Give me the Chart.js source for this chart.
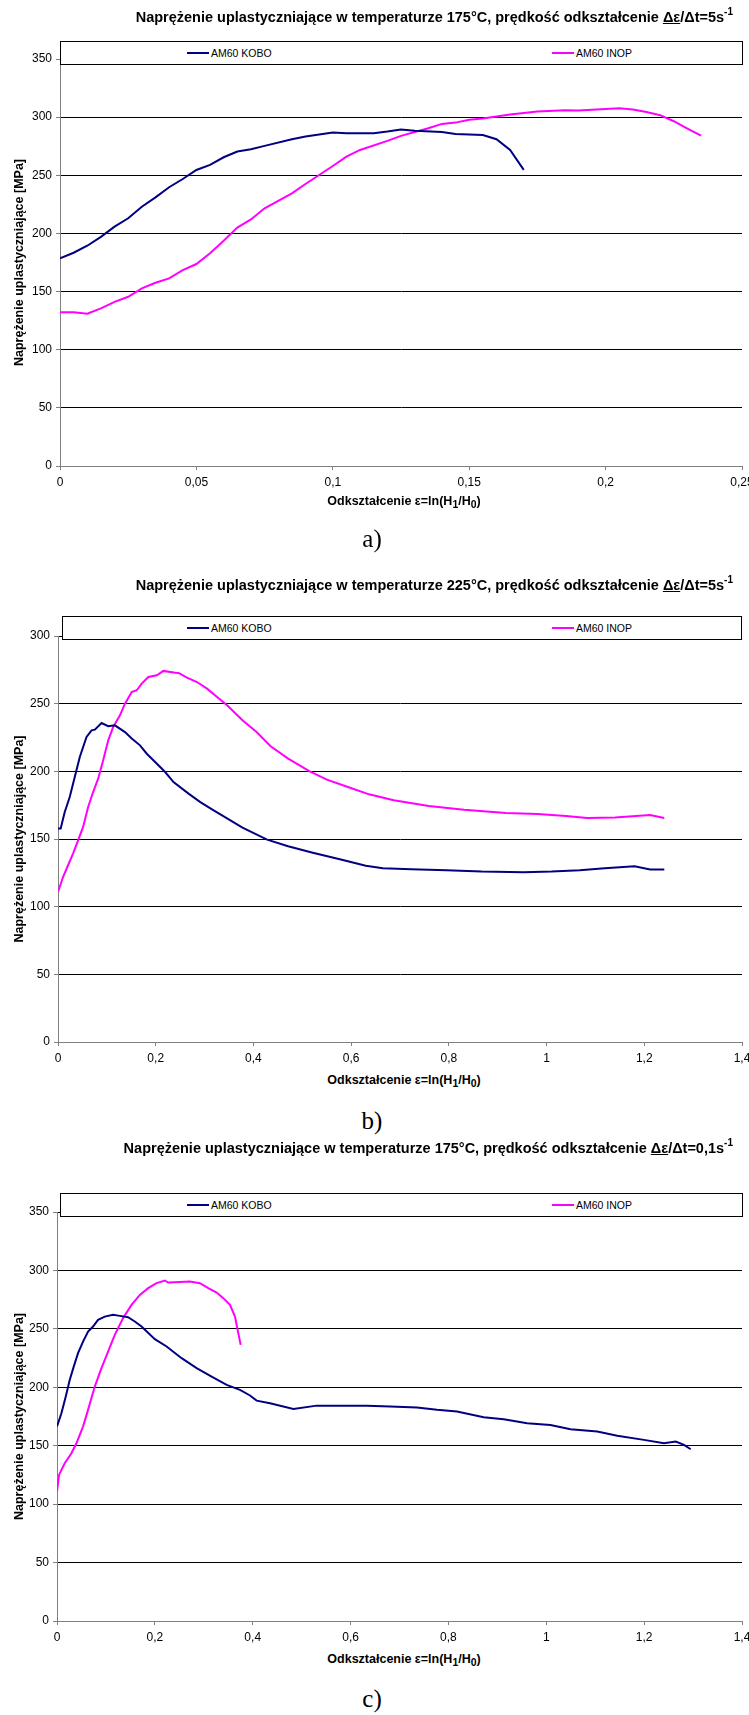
<!DOCTYPE html>
<html><head><meta charset="utf-8">
<script src="https://cdn.jsdelivr.net/npm/chart.js@4.4.1/dist/chart.umd.min.js"></script>
<style>
body{margin:0;width:749px;height:1715px;overflow:hidden;background:#fff;position:relative;font-family:"Liberation Sans",Arial,sans-serif;color:#000;}
canvas{position:absolute;left:0;}
.title{position:absolute;right:16px;font-weight:bold;font-size:14.5px;white-space:nowrap;line-height:16px;}
.title sup{font-size:10px;position:relative;top:-1px;}
.legend{position:absolute;border:1px solid #000;background:#fff;box-sizing:border-box;font-size:10.5px;height:24px;}
.item{position:absolute;top:5px;white-space:nowrap;line-height:13px;}
.item i{display:inline-block;width:22px;height:2px;vertical-align:middle;margin-right:2px;position:relative;top:-1px;}
.xt{position:absolute;left:404px;transform:translate(-50%,-50%);font-weight:bold;font-size:12.5px;white-space:nowrap;}
.cap{position:absolute;left:372px;transform:translate(-50%,-50%);font-family:"Liberation Serif","Times New Roman",serif;font-size:25px;}
</style>
</head><body>
<canvas id="ca" width="749" height="494" style="top:0px"></canvas>
<canvas id="cb" width="749" height="510" style="top:560px"></canvas>
<canvas id="cc" width="749" height="499" style="top:1150px"></canvas>

<div class="title" style="top:5px">Naprężenie uplastyczniające w temperaturze 175°C, prędkość odkształcenie <u>Δε</u>/Δt=5s<sup>-1</sup></div>
<div class="legend" style="left:60px;top:41px;width:683px"><span class="item" style="left:126px"><i style="background:#000080"></i>AM60 KOBO</span><span class="item" style="left:491px"><i style="background:#ff00ff"></i>AM60 INOP</span></div>
<div class="xt" style="top:502px">Odkształcenie ε=ln(H<sub>1</sub>/H<sub>0</sub>)</div>
<div class="cap" style="top:539px">a)</div>

<div class="title" style="top:573px">Naprężenie uplastyczniające w temperaturze 225°C, prędkość odkształcenie <u>Δε</u>/Δt=5s<sup>-1</sup></div>
<div class="legend" style="left:62px;top:616px;width:680px"><span class="item" style="left:124px"><i style="background:#000080"></i>AM60 KOBO</span><span class="item" style="left:489px"><i style="background:#ff00ff"></i>AM60 INOP</span></div>
<div class="xt" style="top:1081px">Odkształcenie ε=ln(H<sub>1</sub>/H<sub>0</sub>)</div>
<div class="cap" style="top:1121px">b)</div>

<div class="title" style="top:1136px">Naprężenie uplastyczniające w temperaturze 175°C, prędkość odkształcenie <u>Δε</u>/Δt=0,1s<sup>-1</sup></div>
<div class="legend" style="left:60px;top:1193px;width:683px"><span class="item" style="left:126px"><i style="background:#000080"></i>AM60 KOBO</span><span class="item" style="left:491px"><i style="background:#ff00ff"></i>AM60 INOP</span></div>
<div class="xt" style="top:1660px">Odkształcenie ε=ln(H<sub>1</sub>/H<sub>0</sub>)</div>
<div class="cap" style="top:1699px">c)</div>

<script>
// ---- Chart a) 175°C, 5 s^-1 ----
const aKoboX = [0,0.005,0.01,0.015,0.02,0.025,0.03,0.035,0.04,0.045,0.05,0.055,0.06,0.065,0.07,0.075,0.085,0.09,0.1,0.105,0.115,0.12,0.125,0.13,0.14,0.145,0.155,0.16,0.165,0.17];
const aKoboY = [178.6,183.4,189.4,197,205.8,213,223,231,239.7,246.8,254.6,258.9,265.5,270.4,272.4,275.3,281,283.3,286.7,286.2,286.2,287.6,289.3,288.2,287.3,285.6,284.7,281,271.8,254.6];
const aInopX = [0,0.005,0.01,0.015,0.02,0.025,0.03,0.035,0.04,0.045,0.05,0.055,0.06,0.065,0.07,0.075,0.085,0.09,0.1,0.105,0.11,0.12,0.125,0.135,0.14,0.145,0.15,0.155,0.165,0.175,0.185,0.19,0.2,0.205,0.21,0.215,0.22,0.225,0.23,0.235];
const aInopY = [132.3,132.3,130.9,135.5,141.2,145.5,152.7,157.6,161.3,168.5,173.7,182.9,193.7,205,212,221.6,234.5,242.5,258,266,271.8,279.6,283.9,290.5,294.2,295.3,297.7,298.8,302.2,304.8,306,305.7,306.9,307.7,306.5,304.5,301.7,296.5,290.2,284.1];
const aXTicks = [0,0.05,0.1,0.15,0.2,0.25];
const aYTicks = [0,50,100,150,200,250,300,350];

// ---- Chart b) 225°C, 5 s^-1 ----
const bKoboX = [0,0.0055,0.0138,0.024,0.0343,0.0446,0.0584,0.0687,0.0754,0.0892,0.1028,0.1165,0.1371,0.1509,0.1679,0.1817,0.1988,0.2193,0.2364,0.2672,0.2913,0.3186,0.3529,0.3776,0.428,0.471,0.5215,0.579,0.63,0.665,0.723,0.795,0.867,0.953,1.01,1.068,1.119,1.18,1.212,1.241];
const bKoboY = [157.7,157.7,170,181,195.8,210.6,225.4,230.3,230.8,235.7,233.3,234,229,224.2,219.2,213,206.9,199.5,192.1,183.5,177.3,171.2,163.8,158.4,149.5,144.6,139.9,134.8,130.3,128.4,127.6,126.9,125.9,125.4,125.9,126.9,128.4,129.8,127.4,127.4];
const bInopX = [0,0.0103,0.0206,0.0308,0.0411,0.0514,0.0617,0.0719,0.0822,0.0925,0.1028,0.113,0.1268,0.1371,0.1509,0.1611,0.1714,0.185,0.2023,0.2158,0.2399,0.2467,0.2639,0.2845,0.305,0.3256,0.3461,0.3776,0.4064,0.4352,0.4711,0.5143,0.5503,0.5934,0.6366,0.6872,0.759,0.831,0.917,0.982,1.04,1.083,1.14,1.183,1.212,1.241];
const bInopY = [110.8,121.9,130.6,139.2,149,158.9,173.7,184.7,194.6,208.2,222.9,232.8,241.4,250,258.6,259.9,264.8,269.7,271,274.2,272.9,272.7,269.2,266,261.1,255,248.8,237.7,229.1,218.5,209.4,200.2,193.9,188.4,183,178.6,174.4,171.7,169.2,168.5,167,165.5,165.8,167,167.7,165.5];
const bXTicks = [0,0.2,0.4,0.6,0.8,1,1.2,1.4];
const bYTicks = [0,50,100,150,200,250,300];

// ---- Chart c) 175°C, 0.1 s^-1 ----
const cKoboX = [0,0.009,0.0178,0.026,0.0342,0.043,0.0532,0.0635,0.0737,0.0839,0.0976,0.1146,0.1284,0.1453,0.159,0.1728,0.2,0.224,0.2547,0.2854,0.316,0.3468,0.374,0.3945,0.408,0.4354,0.4831,0.531,0.5924,0.6334,0.681,0.7357,0.7766,0.8176,0.872,0.913,0.961,1.0086,1.0495,1.1042,1.1451,1.1996,1.2405,1.2645,1.2815,1.2952];
const cKoboY = [166.4,177.8,192,206.3,217.7,229.2,239.1,247.7,252,257.7,260.5,262,261.1,260,256.3,252,241.2,234.9,224.9,216.4,209.2,202,197.8,193,188.6,186.4,181.5,184.3,184.3,184.3,183.5,182.6,180.7,179.2,174.4,172.7,169.3,167.8,164.1,162.1,158.6,155,152.1,153.5,150.7,147];
const cInopX = [0,0.0041,0.0158,0.0295,0.0397,0.0532,0.0635,0.0772,0.0909,0.1044,0.1181,0.1351,0.1523,0.1693,0.1863,0.2035,0.2205,0.2272,0.2512,0.2717,0.2921,0.3091,0.3263,0.3398,0.3535,0.3638,0.3705,0.3754];
const cInopY = [110.7,125,135,143.6,152.1,166.4,180.7,200.6,216.4,230.6,244.9,259.2,270.5,279.1,284.8,289.1,291.4,289.6,290.2,290.5,289.1,284.8,281.1,276.3,270.5,260.5,246.3,236.3];
const cXTicks = [0,0.2,0.4,0.6,0.8,1,1.2,1.4];
const cYTicks = [0,50,100,150,200,250,300,350];

const seriesNames = ['AM60 KOBO','AM60 INOP'];
const seriesColors = ['#000080','#ff00ff'];
const FONT = '"Liberation Sans", Arial, sans-serif';

function pts(xs, ys){ return xs.map((x,i)=>({x:x, y:ys[i]})); }
function fmt(v){ return String(Math.round(v*1000)/1000).replace('.', ','); }

function makeChart(id, kx, ky, ix, iy, xTicks, yTicks, padTop, padRight, yWidth){
  new Chart(document.getElementById(id), {
    type: 'line',
    data: { datasets: [
      {label: seriesNames[0], data: pts(kx,ky), borderColor: seriesColors[0], borderWidth: 2, pointRadius: 0, tension: 0, fill: false},
      {label: seriesNames[1], data: pts(ix,iy), borderColor: seriesColors[1], borderWidth: 2, pointRadius: 0, tension: 0, fill: false}
    ]},
    options: {
      responsive: false, animation: false, devicePixelRatio: 1,
      layout: { padding: {top: padTop, right: padRight, bottom: 0, left: 0} },
      plugins: { legend: {display: false}, tooltip: {enabled: false} },
      scales: {
        x: {
          type: 'linear', min: xTicks[0], max: xTicks[xTicks.length-1],
          afterBuildTicks: s => { s.ticks = xTicks.map(v => ({value: v})); },
          ticks: { callback: v => fmt(v), font: {size: 12, family: FONT}, color: '#000', padding: 5, maxRotation: 0, autoSkip: false },
          grid: { drawOnChartArea: false, drawTicks: true, tickLength: 4, color: '#808080' },
          border: { color: '#808080', width: 1 },
          afterFit: s => { s.height = 28; s.paddingLeft = 0; s.paddingRight = 0; }
        },
        y: {
          min: yTicks[0], max: yTicks[yTicks.length-1],
          afterBuildTicks: s => { s.ticks = yTicks.map(v => ({value: v})); },
          ticks: { font: {size: 12, family: FONT}, color: '#000', padding: 4 },
          grid: { color: '#000', tickColor: '#808080', tickLength: 4, lineWidth: 1 },
          border: { color: '#808080', width: 1 },
          title: { display: true, text: 'Naprężenie uplastyczniające [MPa]', color: '#000', font: {size: 12.5, weight: 'bold', family: FONT}, padding: {top: 12, bottom: 0} },
          afterFit: s => { s.width = yWidth; s.paddingTop = 0; s.paddingBottom = 0; }
        }
      }
    }
  });
}

makeChart('ca', aKoboX, aKoboY, aInopX, aInopY, aXTicks, aYTicks, 59, 7, 60);
makeChart('cb', bKoboX, bKoboY, bInopX, bInopY, bXTicks, bYTicks, 76, 7, 58);
makeChart('cc', cKoboX, cKoboY, cInopX, cInopY, cXTicks, cYTicks, 62, 7, 57);
</script>
</body></html>
